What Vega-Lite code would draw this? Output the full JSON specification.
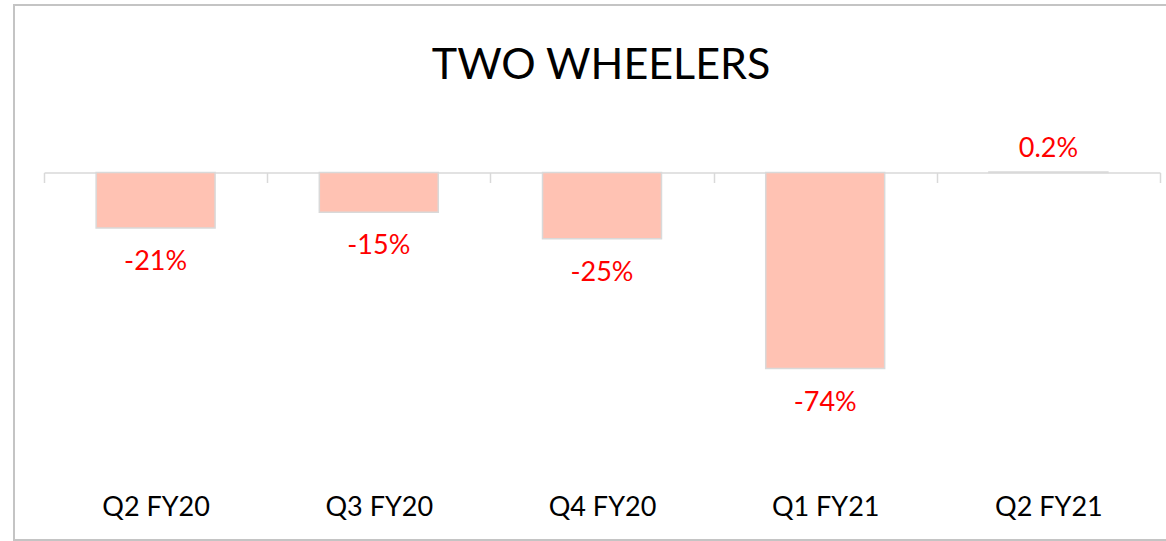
{
  "$schema": "https://vega.github.io/schema/vega-lite/v6.json",
  "width": 1154,
  "height": 535,
  "autosize": {"type": "none"},
  "padding": {"left": 14, "top": 5, "right": 0, "bottom": 1},
  "background": "white",
  "config": {"view": {"stroke": "#C4C4C4", "strokeWidth": 2}, "font": "Lato"},
  "title": {
    "text": "TWO WHEELERS",
    "fontSize": 43,
    "font": "Lato",
    "fontWeight": "normal",
    "color": "#000000",
    "anchor": "middle",
    "dx": 10,
    "offset": -117,
    "baseline": "alphabetic"
  },
  "data": {
    "values": [
      {"quarter": "Q2 FY20", "value": -21, "label": "-21%"},
      {"quarter": "Q3 FY20", "value": -15, "label": "-15%"},
      {"quarter": "Q4 FY20", "value": -25, "label": "-25%"},
      {"quarter": "Q1 FY21", "value": -74, "label": "-74%"},
      {"quarter": "Q2 FY21", "value": 0.2, "label": "0.2%"}
    ]
  },
  "encoding": {
    "x": {
      "field": "quarter",
      "type": "nominal",
      "sort": null,
      "scale": {"range": [30, 1146], "paddingInner": 0, "paddingOuter": 0},
      "axis": {
        "orient": "bottom",
        "offset": -367.5,
        "title": null,
        "labelAngle": 0,
        "domainColor": "#D9D9D9",
        "domainWidth": 1.5,
        "tickColor": "#D9D9D9",
        "tickWidth": 1.5,
        "tickSize": 10,
        "tickBand": "extent",
        "labelPadding": 332.5,
        "labelBaseline": "alphabetic",
        "labelFont": "Lato",
        "labelFontSize": 27,
        "labelColor": "#000000"
      }
    }
  },
  "layer": [
    {
      "mark": {"type": "bar", "fill": "#FFC2B3", "stroke": "#D9D9D9", "strokeWidth": 1.5, "width": {"band": 0.533}},
      "encoding": {
        "y": {
          "field": "value",
          "type": "quantitative",
          "scale": {"domain": [-138.7, 63.2], "nice": false},
          "axis": null
        }
      }
    },
    {
      "transform": [{"filter": "datum.value < 0"}],
      "mark": {"type": "text", "color": "#FF0000", "font": "Lato", "fontSize": 27, "dy": 42, "baseline": "alphabetic"},
      "encoding": {
        "y": {"field": "value", "type": "quantitative"},
        "text": {"field": "label"}
      }
    },
    {
      "transform": [{"filter": "datum.value >= 0"}],
      "mark": {"type": "text", "color": "#FF0000", "font": "Lato", "fontSize": 27, "dy": -15, "baseline": "alphabetic"},
      "encoding": {
        "y": {"field": "value", "type": "quantitative"},
        "text": {"field": "label"}
      }
    }
  ]
}
